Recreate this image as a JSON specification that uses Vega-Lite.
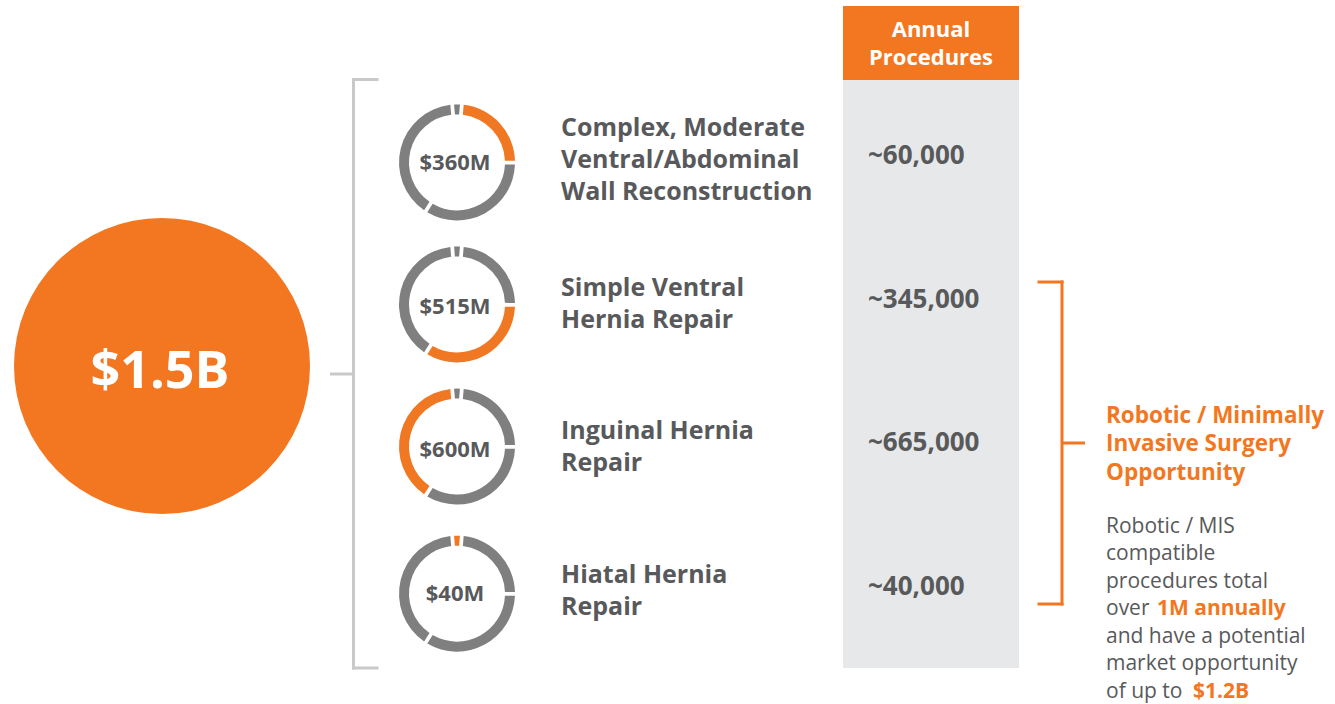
{
  "$schema": "https://vega.github.io/schema/vega-lite/v6.json",
  "width": 1335,
  "height": 704,
  "autosize": {"type": "none"},
  "padding": 0,
  "background": "#ffffff",
  "config": {
    "view": {"stroke": null},
    "font": "Open Sans",
    "text": {"font": "Open Sans"}
  },
  "datasets": {
    "procedures": [
      {"row": 1, "lines": 3, "name": "Complex, Moderate\nVentral/Abdominal\nWall Reconstruction", "market": "$360M", "annual": "~60,000"},
      {"row": 2, "lines": 2, "name": "Simple Ventral\nHernia Repair", "market": "$515M", "annual": "~345,000"},
      {"row": 3, "lines": 2, "name": "Inguinal Hernia\nRepair", "market": "$600M", "annual": "~665,000"},
      {"row": 4, "lines": 2, "name": "Hiatal Hernia\nRepair", "market": "$40M", "annual": "~40,000"}
    ],
    "segments": [
      {"row": 1, "segRow": 4, "clock": 1, "value": 40},
      {"row": 1, "segRow": 1, "clock": 2, "value": 360},
      {"row": 1, "segRow": 2, "clock": 3, "value": 515},
      {"row": 1, "segRow": 3, "clock": 4, "value": 600},
      {"row": 2, "segRow": 4, "clock": 1, "value": 40},
      {"row": 2, "segRow": 1, "clock": 2, "value": 360},
      {"row": 2, "segRow": 2, "clock": 3, "value": 515},
      {"row": 2, "segRow": 3, "clock": 4, "value": 600},
      {"row": 3, "segRow": 4, "clock": 1, "value": 40},
      {"row": 3, "segRow": 1, "clock": 2, "value": 360},
      {"row": 3, "segRow": 2, "clock": 3, "value": 515},
      {"row": 3, "segRow": 3, "clock": 4, "value": 600},
      {"row": 4, "segRow": 4, "clock": 1, "value": 40},
      {"row": 4, "segRow": 1, "clock": 2, "value": 360},
      {"row": 4, "segRow": 2, "clock": 3, "value": 515},
      {"row": 4, "segRow": 3, "clock": 4, "value": 600}
    ],
    "one": [{"k": 1}]
  },
  "encoding": {
    "x": {"type": "quantitative", "scale": {"domain": [0, 1335], "nice": false, "zero": false}, "axis": null},
    "y": {"type": "quantitative", "scale": {"domain": [-0.12195, 4.78397], "nice": false, "zero": false, "reverse": true}, "axis": null}
  },
  "layer": [
    {
      "data": {"name": "one"},
      "mark": {"type": "rect", "color": "#f37721"},
      "encoding": {"x": {"datum": 843}, "x2": {"datum": 1019}, "y": {"datum": -0.0801}, "y2": {"datum": 0.4355}}
    },
    {
      "data": {"name": "one"},
      "mark": {"type": "rect", "color": "#e7e8e9"},
      "encoding": {"x": {"datum": 843}, "x2": {"datum": 1019}, "y": {"datum": 0.4355}, "y2": {"datum": 4.5331}}
    },
    {
      "data": {"name": "one"},
      "mark": {"type": "text", "text": ["Annual", "Procedures"], "color": "#ffffff", "fontSize": 22, "fontWeight": "bold", "align": "center", "baseline": "middle", "lineHeight": 28},
      "encoding": {"x": {"datum": 931}, "y": {"datum": 0.0871}}
    },
    {
      "data": {"name": "one"},
      "mark": {"type": "point", "shape": "circle", "filled": true, "opacity": 1, "color": "#f37721", "size": 87616},
      "encoding": {"x": {"datum": 162}, "y": {"datum": 2.4286}}
    },
    {
      "data": {"name": "one"},
      "mark": {"type": "text", "text": "$1.5B", "color": "#ffffff", "fontSize": 52, "fontWeight": "bold", "align": "center", "baseline": "middle", "dy": 6},
      "encoding": {"x": {"datum": 160}, "y": {"datum": 2.4286}}
    },
    {
      "data": {"name": "one"},
      "mark": {"type": "rule", "color": "#c9c9c9", "strokeWidth": 3, "strokeCap": "square"},
      "encoding": {"x": {"datum": 353.5}, "y": {"datum": 0.4321}, "y2": {"datum": 4.5331}}
    },
    {
      "data": {"name": "one"},
      "mark": {"type": "rule", "color": "#c9c9c9", "strokeWidth": 3, "strokeCap": "square"},
      "encoding": {"x": {"datum": 353.5}, "x2": {"datum": 377}, "y": {"datum": 0.4321}}
    },
    {
      "data": {"name": "one"},
      "mark": {"type": "rule", "color": "#c9c9c9", "strokeWidth": 3, "strokeCap": "square"},
      "encoding": {"x": {"datum": 353.5}, "x2": {"datum": 377}, "y": {"datum": 4.5331}}
    },
    {
      "data": {"name": "one"},
      "mark": {"type": "rule", "color": "#c9c9c9", "strokeWidth": 3},
      "encoding": {"x": {"datum": 330}, "x2": {"datum": 353.5}, "y": {"datum": 2.4843}}
    },
    {
      "data": {"name": "segments"},
      "transform": [{"filter": "datum.row === 1"}],
      "mark": {"type": "arc", "radius": 58, "radius2": 48, "padAngle": 0.05},
      "encoding": {
        "x": {"datum": 457},
        "y": {"datum": 1.01},
        "theta": {"field": "value", "type": "quantitative", "stack": true, "scale": {"range": [-0.0829, 6.2003]}},
        "order": {"field": "clock", "type": "quantitative"},
        "color": {"condition": {"test": "datum.row === datum.segRow", "value": "#f07822"}, "value": "#7f7f7f"}
      }
    },
    {
      "data": {"name": "segments"},
      "transform": [{"filter": "datum.row === 2"}],
      "mark": {"type": "arc", "radius": 58, "radius2": 48, "padAngle": 0.05},
      "encoding": {
        "x": {"datum": 457},
        "y": {"datum": 2},
        "theta": {"field": "value", "type": "quantitative", "stack": true, "scale": {"range": [-0.0829, 6.2003]}},
        "order": {"field": "clock", "type": "quantitative"},
        "color": {"condition": {"test": "datum.row === datum.segRow", "value": "#f07822"}, "value": "#7f7f7f"}
      }
    },
    {
      "data": {"name": "segments"},
      "transform": [{"filter": "datum.row === 3"}],
      "mark": {"type": "arc", "radius": 58, "radius2": 48, "padAngle": 0.05},
      "encoding": {
        "x": {"datum": 457},
        "y": {"datum": 2.99},
        "theta": {"field": "value", "type": "quantitative", "stack": true, "scale": {"range": [-0.0829, 6.2003]}},
        "order": {"field": "clock", "type": "quantitative"},
        "color": {"condition": {"test": "datum.row === datum.segRow", "value": "#f07822"}, "value": "#7f7f7f"}
      }
    },
    {
      "data": {"name": "segments"},
      "transform": [{"filter": "datum.row === 4"}],
      "mark": {"type": "arc", "radius": 58, "radius2": 48, "padAngle": 0.05},
      "encoding": {
        "x": {"datum": 457},
        "y": {"datum": 4.015},
        "theta": {"field": "value", "type": "quantitative", "stack": true, "scale": {"range": [-0.0829, 6.2003]}},
        "order": {"field": "clock", "type": "quantitative"},
        "color": {"condition": {"test": "datum.row === datum.segRow", "value": "#f07822"}, "value": "#7f7f7f"}
      }
    },
    {
      "data": {"name": "procedures"},
      "mark": {"type": "text", "color": "#58595b", "fontSize": 22, "fontWeight": "bold", "align": "center", "baseline": "middle", "dy": 2},
      "encoding": {"x": {"datum": 455}, "y": {"field": "row", "type": "quantitative"}, "text": {"field": "market"}}
    },
    {
      "data": {"name": "procedures"},
      "transform": [{"filter": "datum.lines === 3"}],
      "mark": {"type": "text", "color": "#58595b", "fontSize": 25, "fontWeight": "bold", "align": "left", "baseline": "middle", "lineBreak": "\n", "lineHeight": 32, "dy": -33},
      "encoding": {"x": {"datum": 561}, "y": {"field": "row", "type": "quantitative"}, "text": {"field": "name"}}
    },
    {
      "data": {"name": "procedures"},
      "transform": [{"filter": "datum.lines === 2"}],
      "mark": {"type": "text", "color": "#58595b", "fontSize": 25, "fontWeight": "bold", "align": "left", "baseline": "middle", "lineBreak": "\n", "lineHeight": 32, "dy": -17},
      "encoding": {"x": {"datum": 561}, "y": {"field": "row", "type": "quantitative"}, "text": {"field": "name"}}
    },
    {
      "data": {"name": "procedures"},
      "mark": {"type": "text", "color": "#58595b", "fontSize": 26, "fontWeight": "bold", "align": "left", "baseline": "middle", "dy": -5},
      "encoding": {"x": {"datum": 868}, "y": {"field": "row", "type": "quantitative"}, "text": {"field": "annual"}}
    },
    {
      "data": {"name": "one"},
      "mark": {"type": "rule", "color": "#f37721", "strokeWidth": 3, "strokeCap": "square"},
      "encoding": {"x": {"datum": 1062}, "y": {"datum": 1.8432}, "y2": {"datum": 4.0871}}
    },
    {
      "data": {"name": "one"},
      "mark": {"type": "rule", "color": "#f37721", "strokeWidth": 3, "strokeCap": "square"},
      "encoding": {"x": {"datum": 1039}, "x2": {"datum": 1062}, "y": {"datum": 1.8432}}
    },
    {
      "data": {"name": "one"},
      "mark": {"type": "rule", "color": "#f37721", "strokeWidth": 3, "strokeCap": "square"},
      "encoding": {"x": {"datum": 1039}, "x2": {"datum": 1062}, "y": {"datum": 4.0871}}
    },
    {
      "data": {"name": "one"},
      "mark": {"type": "rule", "color": "#f37721", "strokeWidth": 3},
      "encoding": {"x": {"datum": 1062}, "x2": {"datum": 1085}, "y": {"datum": 2.9652}}
    },
    {
      "data": {"name": "one"},
      "mark": {"type": "text", "text": ["Robotic / Minimally", "Invasive Surgery", "Opportunity"], "color": "#f37721", "fontSize": 22.5, "fontWeight": "bold", "align": "left", "baseline": "middle", "lineHeight": 28.5},
      "encoding": {"x": {"datum": 1106}, "y": {"datum": 2.7770}}
    },
    {
      "data": {"name": "one"},
      "mark": {"type": "text", "text": ["Robotic / MIS", "compatible", "procedures total", "over", "and have a potential", "market opportunity", "of up to"], "color": "#58595b", "fontSize": 21, "align": "left", "baseline": "middle", "lineHeight": 27.5},
      "encoding": {"x": {"datum": 1106}, "y": {"datum": 3.5505}}
    },
    {
      "data": {"name": "one"},
      "mark": {"type": "text", "text": "1M annually", "color": "#f37721", "fontSize": 21, "fontWeight": "bold", "align": "left", "baseline": "middle"},
      "encoding": {"x": {"datum": 1157}, "y": {"datum": 4.1254}}
    },
    {
      "data": {"name": "one"},
      "mark": {"type": "text", "text": "$1.2B", "color": "#f37721", "fontSize": 21, "fontWeight": "bold", "align": "left", "baseline": "middle"},
      "encoding": {"x": {"datum": 1193}, "y": {"datum": 4.7003}}
    }
  ]
}
